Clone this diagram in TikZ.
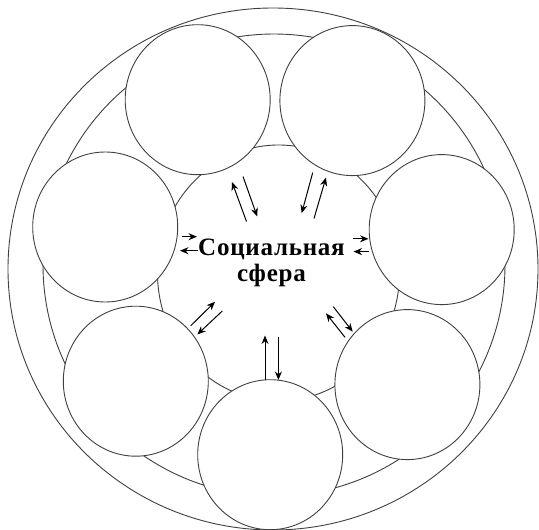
\documentclass[tikz,border=0pt]{standalone}
\usepackage{fontspec}
\setmainfont{Liberation Serif}
\usetikzlibrary{positioning, arrows.meta, shapes.geometric}

\begin{document}
\begin{tikzpicture}
    [
        x=1pt, y=-1pt,
        ring/.style={draw=black!75, ellipse, line width=0.9pt, inner sep=0pt, outer sep=0pt},
        sphere/.style={ring, fill=white, minimum width=145pt, minimum height=150pt},
        flow/.style={-{Stealth[length=8.5pt, width=7pt]}, line width=1pt},
        label/.style={font=\bfseries\fontsize{25}{26.7}\selectfont\addfontfeature{LetterSpace=3}, align=center, inner sep=0pt}
    ]
        \useasboundingbox (0,0) rectangle (539,530);
        \fill [white] (0,0) rectangle (539,530);
        % =========================================================================
        % RINGS
        % =========================================================================
        \node [ring, minimum width=530pt, minimum height=522pt] (outer) at (273,269) {};
        \node [ring, minimum width=462pt, minimum height=462pt] (middle) at (274,265) {};
        \node [ring, minimum width=242pt, minimum height=256pt] (inner) at (278.5,273) {};

        % =========================================================================
        % SPHERES
        % =========================================================================
        % --- Top ---
        \node [sphere] (topleft) at (197.7,99.7) {};
        \node [sphere] (topright) at (352.4,100.6) {};
        % --- Middle ---
        \node [sphere] (left) at (105.2,227) {};
        \node [sphere] (right) at (441.7,229.6) {};
        % --- Bottom ---
        \node [sphere] (botleft) at (135.8,381.2) {};
        \node [sphere] (botright) at (407.4,384.6) {};
        \node [sphere] (bottom) at (270.2,454.7) {};

        % --- Centre ---
        \node [label] (social) at (271.5,263) {Социальная\\сфера};

        % =========================================================================
        % ARROWS
        % =========================================================================
        % --- Arrow ends ---
        \coordinate (tl1) at (246.5,221.5); \coordinate (tl2) at (232,182);
        \coordinate (tl3) at (243,176.5);   \coordinate (tl4) at (257.2,216.5);
        \coordinate (tr1) at (312.7,172.6); \coordinate (tr2) at (301.7,213.2);
        \coordinate (tr3) at (314,218.5);   \coordinate (tr4) at (326,177.5);
        \coordinate (l1) at (181.5,236.7);  \coordinate (l2) at (197,236.7);
        \coordinate (l3) at (198,250.7);    \coordinate (l4) at (180,250.7);
        \coordinate (r1) at (353,238.8);    \coordinate (r2) at (368.5,238.8);
        \coordinate (r3) at (369,251.6);    \coordinate (r4) at (353.5,251.6);
        \coordinate (bl1) at (190.7,325.8); \coordinate (bl2) at (215,301.8);
        \coordinate (bl3) at (222.3,311);   \coordinate (bl4) at (197.3,334.5);
        \coordinate (br1) at (345,337.3);   \coordinate (br2) at (326,313.3);
        \coordinate (br3) at (333.3,306.7); \coordinate (br4) at (352.7,331.7);
        \coordinate (b1) at (265,380.3);    \coordinate (b2) at (265,335.5);
        \coordinate (b3) at (278.4,336.5);  \coordinate (b4) at (278.4,380);
        % --- Pairs ---
        \draw [flow] (tl1) -- (tl2);
        \draw [flow] (tl3) -- (tl4);
        \draw [flow] (tr1) -- (tr2);
        \draw [flow] (tr3) -- (tr4);
        \draw [flow] (l1) -- (l2);
        \draw [flow] (l3) -- (l4);
        \draw [flow] (r1) -- (r2);
        \draw [flow] (r3) -- (r4);
        \draw [flow] (bl1) -- (bl2);
        \draw [flow] (bl3) -- (bl4);
        \draw [flow] (br1) -- (br2);
        \draw [flow] (br3) -- (br4);
        \draw [flow] (b1) -- (b2);
        \draw [flow] (b3) -- (b4);

    \end{tikzpicture}
\end{document}
